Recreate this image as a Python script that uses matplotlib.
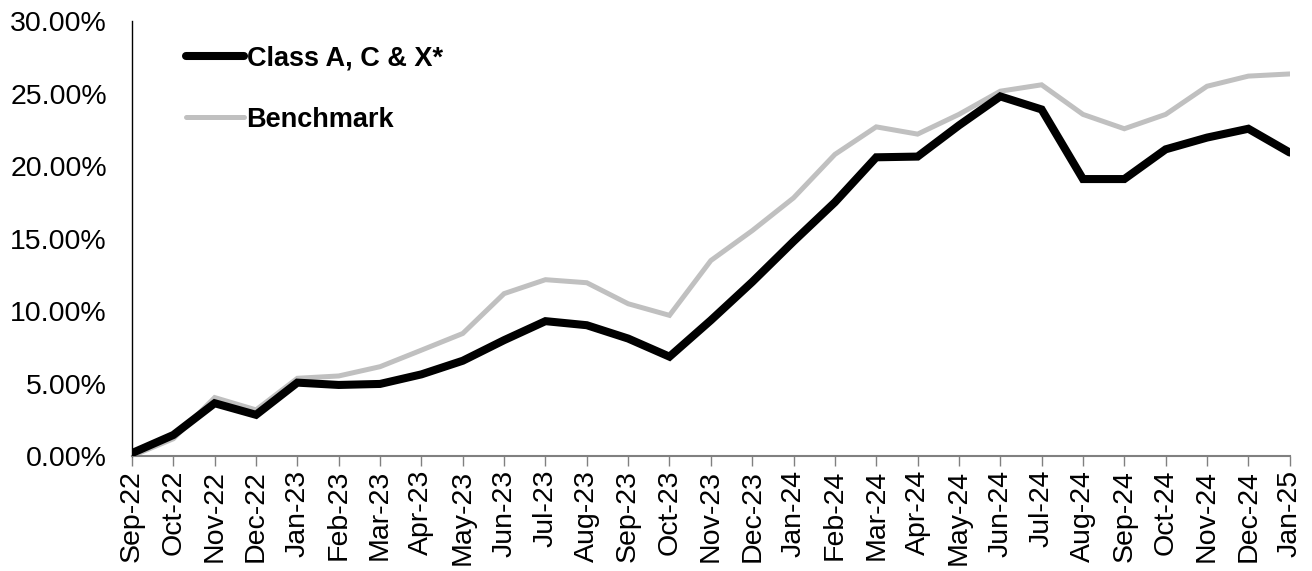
import matplotlib
matplotlib.use("Agg")
import matplotlib.pyplot as plt
from matplotlib.ticker import FuncFormatter

plt.rcParams['font.family'] = ['Liberation Sans', 'DejaVu Sans']

months = ["Sep-22", "Oct-22", "Nov-22", "Dec-22", "Jan-23", "Feb-23", "Mar-23", "Apr-23",
          "May-23", "Jun-23", "Jul-23", "Aug-23", "Sep-23", "Oct-23", "Nov-23", "Dec-23",
          "Jan-24", "Feb-24", "Mar-24", "Apr-24", "May-24", "Jun-24", "Jul-24", "Aug-24",
          "Sep-24", "Oct-24", "Nov-24", "Dec-24", "Jan-25"]
fund = [0.2, 1.45, 3.64, 2.84, 5.06, 4.9, 4.97, 5.63, 6.57, 7.99, 9.3, 9.02, 8.1, 6.85,
        9.36, 12.0, 14.8, 17.5, 20.6, 20.65, 22.8, 24.8, 23.9, 19.1, 19.1, 21.15, 21.96,
        22.57, 20.93]
bench = [0.0, 1.19, 4.03, 3.18, 5.36, 5.52, 6.16, 7.3, 8.45, 11.2, 12.16, 11.95, 10.5, 9.7,
         13.48, 15.54, 17.8, 20.8, 22.7, 22.2, 23.56, 25.16, 25.6, 23.56, 22.57, 23.56, 25.5,
         26.2, 26.35]
series_names = ["Class A, C & X*", "Benchmark"]

fig = plt.figure(figsize=(13.12, 5.71), dpi=100)
ax = fig.add_axes([0.1006, 0.2014, 0.8824, 0.7618])

x = list(range(len(months)))
ax.plot(x, fund, color='black', lw=5.8, label=series_names[0], solid_capstyle='round',
        solid_joinstyle='miter', zorder=3)
ax.plot(x, bench, color='#c0c0c0', lw=3.6, label=series_names[1], solid_capstyle='round',
        solid_joinstyle='miter', zorder=2)

ax.set_xlim(0, len(months) - 1)
ax.set_ylim(0, 30)
ax.set_yticks([0, 5, 10, 15, 20, 25, 30])
ax.yaxis.set_major_formatter(FuncFormatter(lambda v, p: f"{v:.2f}%"))
ax.set_xticks(x)
ax.set_xticklabels(months, rotation=90)
ax.tick_params(axis='y', length=0, labelsize=20.5, pad=18)
ax.tick_params(axis='x', length=7, width=1, color='#808080', labelsize=20.5, pad=3, direction='out')

for s in ['top', 'right']:
    ax.spines[s].set_visible(False)
ax.spines['left'].set_color('black')
ax.spines['left'].set_linewidth(1)
ax.spines['bottom'].set_color('#808080')
ax.spines['bottom'].set_linewidth(1.5)

leg = ax.legend(loc='upper left', bbox_to_anchor=(0.026, 1.0), frameon=False,
                prop={'weight': 'bold', 'size': 19.5}, handlelength=2.14, handletextpad=0.08,
                labelspacing=1.3)

fig.savefig("out.png", dpi=100)
